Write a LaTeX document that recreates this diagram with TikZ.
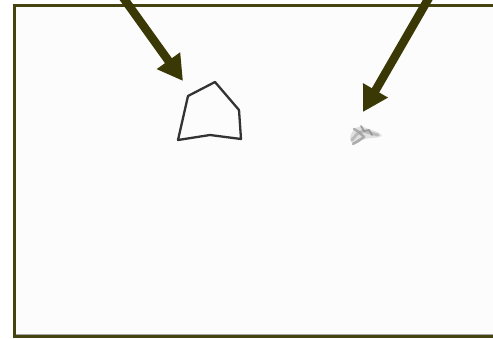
\documentclass[tikz,border=0pt]{standalone}
\usetikzlibrary{arrows.meta}
\definecolor{olive}{HTML}{3A3805}
\definecolor{framec}{HTML}{45430F}
\tikzset{
  bigarrow/.style={draw=olive, line width=8.5pt, -{Triangle[length=25pt,width=27pt]}},
  polyline/.style={draw=black!80, line width=2.3pt, line join=round},
}
\begin{document}
\begin{tikzpicture}[x=1pt,y=-1pt]
\useasboundingbox (0,0) rectangle (493,338);
\fill[white] (0,0) rectangle (493,338);
\fill[black!1] (15,6) rectangle (493,335);
% frame
\draw[framec, line width=2.6pt] (493,5.5) -- (14.5,5.5) -- (14.5,336.5) -- (493,336.5);
\draw[black!35, line width=0.6pt] (16,334.6) -- (493,334.6);
% targets
\coordinate (t1) at (183,81);
\coordinate (t2) at (363,112);
\coordinate (s1) at (122,-4);
\coordinate (s2) at (430,-4);
\draw[bigarrow] (s1) -- (t1);
\draw[bigarrow] (s2) -- (t2);
% polygon
\draw[polyline] (188,96) -- (215,82) -- (239,110) -- (241,139) -- (210,135) -- (178,140) -- cycle;
% smudge
\begin{scope}[line cap=round, line join=round]
\fill[black!12] (350,138) .. controls (352,128) and (360,124) .. (366,128) .. controls (372,130) and (380,132) .. (382,136) .. controls (376,139) and (368,137) .. (362,140) .. controls (358,144) and (351,147) .. (350,138) -- cycle;
\draw[black!30, line width=3pt, opacity=0.8] (352,140) -- (357,134) -- (363,131) -- (370,133) -- (378,135);
\draw[black!38, line width=2.5pt, opacity=0.8] (354,129) -- (359,132) -- (364,137) -- (358,141) -- (353,144);
\draw[black!45, line width=1.8pt, opacity=0.8] (361,126) -- (364,131) -- (369,130) -- (372,135);
\end{scope}
\end{tikzpicture}
\end{document}
